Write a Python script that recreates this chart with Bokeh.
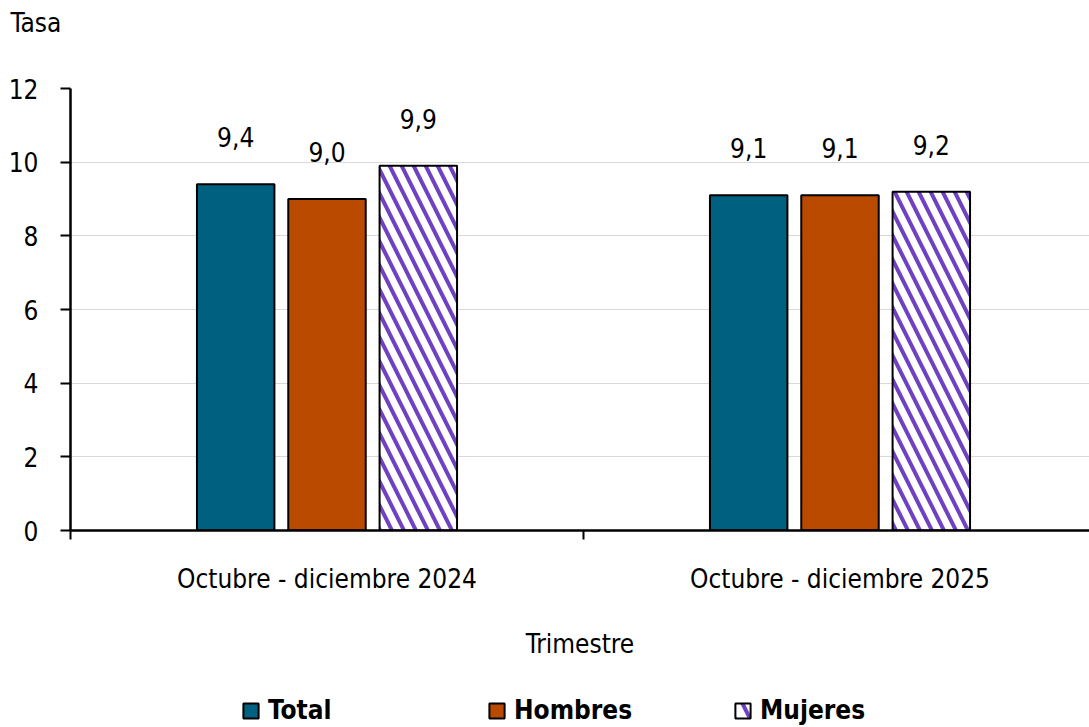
from bokeh.plotting import figure
from bokeh.layouts import column
from bokeh.models import (Range1d, FixedTicker, ColumnDataSource, Legend, LegendItem,
                          LabelSet, Label)
from bokeh.core.properties import value
from bokeh.embed import file_html
from bokeh.resources import INLINE

categories = ["Octubre - diciembre 2024", "Octubre - diciembre 2025"]
series = ["Total", "Hombres", "Mujeres"]
total = [9.4, 9.1]
hombres = [9.0, 9.1]
mujeres = [9.9, 9.2]
value_labels = {"Total": ["9,4", "9,1"], "Hombres": ["9,0", "9,1"], "Mujeres": ["9,9", "9,2"]}
y_ticks = [0, 2, 4, 6, 8, 10, 12]
y_title = "Tasa"

FONT = "DejaVu Sans Condensed, Open Sans"
FS = "26px"
colors = {"Total": "#00607f", "Hombres": "#b94a00", "Mujeres": "white"}
offsets = {"Total": -0.178, "Hombres": 0.0, "Mujeres": 0.178}
values = {"Total": total, "Hombres": hombres, "Mujeres": mujeres}
hatch = dict(hatch_pattern="left_diagonal_line", hatch_color="#6f42c1",
             hatch_weight=4, hatch_scale=24)

# top strip with the y-axis title
top = figure(width=1089, height=48, output_backend="svg", toolbar_location=None,
             title=None, x_range=Range1d(0, 1089), y_range=Range1d(0, 48),
             x_axis_type=None, y_axis_type=None, min_border=0, outline_line_color=None)
top.frame_align = False
top.grid.visible = False
top.add_layout(Label(x=10, y=26, text=y_title, text_font=FONT, text_font_size=FS,
                     text_color="black", text_baseline="alphabetic"))

p = figure(width=1089, height=632, output_backend="svg", toolbar_location=None,
           x_range=Range1d(0, 1019 / 513), y_range=Range1d(0, 12),
           min_border_left=70, min_border_right=0, min_border_top=40, min_border_bottom=150)
p.outline_line_color = None

for s in series:
    xs = [i + 0.5 + offsets[s] for i in range(len(categories))]
    src = ColumnDataSource(dict(x=xs, top=values[s], lab=value_labels[s]))
    kw = hatch if s == "Mujeres" else {}
    p.vbar(x="x", top="top", width=0.151, source=src, fill_color=colors[s],
           line_color="black", line_width=2, **kw)
    p.add_layout(LabelSet(x="x", y="top", text="lab", source=src, text_align="center",
                          text_baseline="bottom", y_offset=37, text_font=value(FONT),
                          text_font_size=value(FS), text_color="black"))

# axes
p.yaxis.ticker = FixedTicker(ticks=y_ticks)
p.yaxis.axis_line_width = 2.5
p.yaxis.axis_line_color = "black"
p.yaxis.major_tick_in = 0
p.yaxis.major_tick_out = 10
p.yaxis.major_tick_line_width = 2
p.yaxis.minor_tick_line_color = None
p.yaxis.major_label_text_font = FONT
p.yaxis.major_label_text_font_size = FS
p.yaxis.major_label_standoff = 22
p.yaxis.major_label_text_color = "black"

p.xaxis.ticker = FixedTicker(ticks=[0.5, 1.5], minor_ticks=[0, 1, 2])
p.xaxis.major_label_overrides = {0.5: categories[0], 1.5: categories[1]}
p.xaxis.axis_line_width = 2.5
p.xaxis.axis_line_color = "black"
p.xaxis.major_tick_in = 0
p.xaxis.major_tick_out = 0
p.xaxis.minor_tick_in = 0
p.xaxis.minor_tick_out = 9
p.xaxis.minor_tick_line_width = 2
p.xaxis.minor_tick_line_color = "black"
p.xaxis.major_label_text_font = FONT
p.xaxis.major_label_text_font_size = FS
p.xaxis.major_label_standoff = 24
p.xaxis.major_label_text_color = "black"
p.xaxis.axis_label = "Trimestre"
p.xaxis.axis_label_text_font = FONT
p.xaxis.axis_label_text_font_size = FS
p.xaxis.axis_label_text_font_style = "normal"
p.xaxis.axis_label_standoff = 32
p.xaxis.axis_label_text_color = "black"

p.xgrid.grid_line_color = None
p.ygrid.ticker = FixedTicker(ticks=y_ticks)
p.ygrid.grid_line_color = "#d9d9d9"
p.ygrid.grid_line_width = 1

# legend row
lg = figure(width=1089, height=47, output_backend="svg", toolbar_location=None,
            title=None, x_range=Range1d(0, 1), y_range=Range1d(0, 1),
            x_axis_type=None, y_axis_type=None,
            min_border=0, outline_line_color=None)
lg.frame_align = False
lg.grid.visible = False
nan = float("nan")
items = []
for s in series:
    kw = dict(hatch) if s == "Mujeres" else {}
    if s == "Mujeres":
        kw["hatch_scale"] = 30
    r = lg.vbar(x=[nan], top=[nan], width=0.1, fill_color=colors[s], line_color="black",
                line_width=2, **kw)
    items.append(LegendItem(label=s, renderers=[r]))
legend = Legend(items=items, orientation="horizontal", location=(239, 0),
                label_text_font=FONT, label_text_font_size="26px",
                label_text_font_style="bold", label_text_color="black",
                glyph_width=19, glyph_height=19, label_standoff=8, spacing=7,
                label_width=212,
                border_line_alpha=0, background_fill_alpha=0, margin=0, padding=2)
lg.add_layout(legend, "center")

open("out.html", "w").write(file_html(column(top, p, lg, spacing=0), INLINE))
